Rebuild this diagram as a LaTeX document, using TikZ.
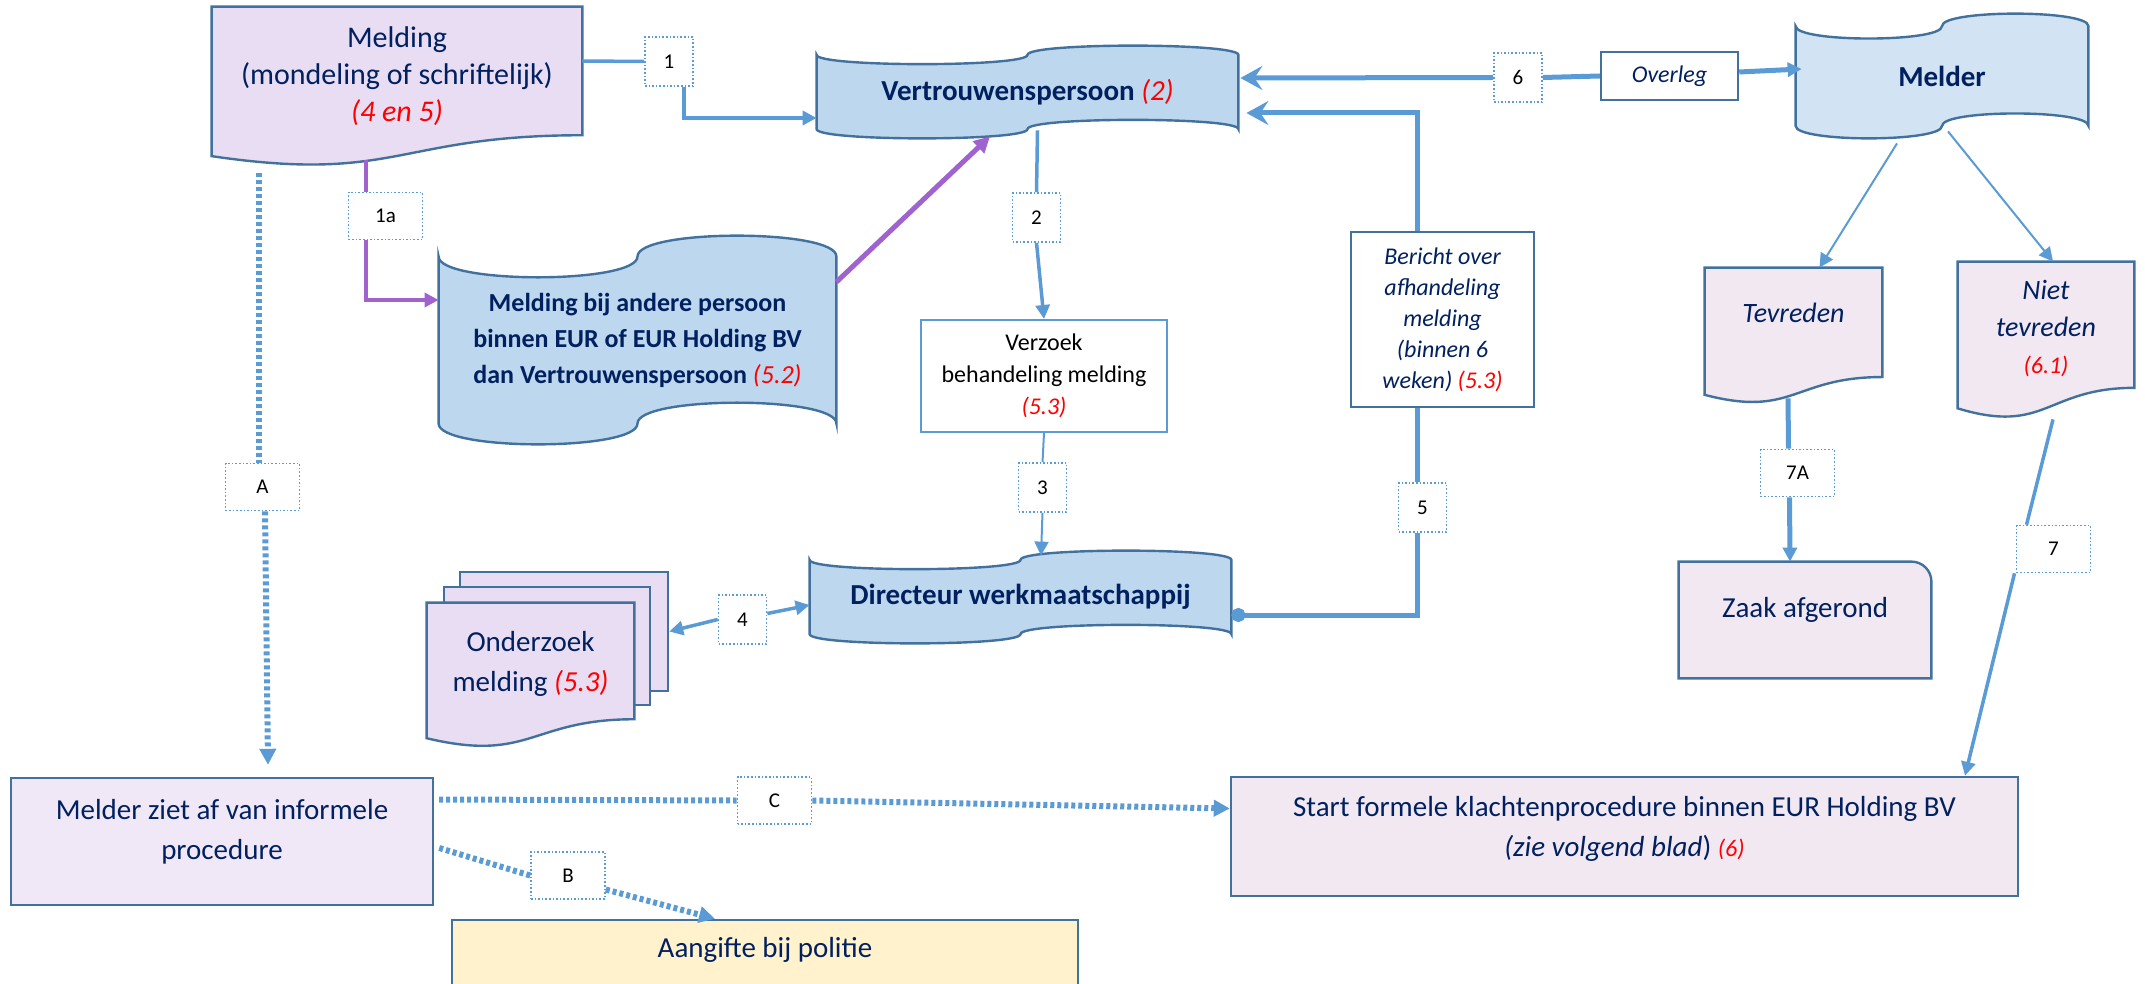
\documentclass[tikz,border=0pt]{standalone}
\usepackage{fontspec}
\setmainfont{Carlito}
\usetikzlibrary{arrows.meta,calc,backgrounds}

\definecolor{navy}{HTML}{002060}
\definecolor{edge}{HTML}{41719C}
\definecolor{flowblue}{HTML}{5B9BD5}
\definecolor{purp}{HTML}{9F62CF}
\definecolor{tapeblue}{HTML}{BDD7EE}
\definecolor{melderblue}{HTML}{D2E3F3}
\definecolor{lav}{HTML}{E8DDF3}
\definecolor{lavlight}{HTML}{F0E8F7}
\definecolor{pinklight}{HTML}{F2E8F2}
\definecolor{cream}{HTML}{FFF2CC}

\newcommand\refnr[1]{{\color{red}\itshape #1}}

% punched tape outline round an empty node
\newcommand\tapeshape[2]{%
  \filldraw[boxed, fill=#2]
    ($(#1.north west)!0.1!(#1.south west)$)
    .. controls ($(#1.north west)!0.233!(#1.south west)$) and ($(#1.north)!0.233!(#1.south)$) .. ($(#1.north)!0.1!(#1.south)$)
    .. controls ($(#1.north)!-0.033!(#1.south)$) and ($(#1.north east)!-0.033!(#1.south east)$) .. ($(#1.north east)!0.1!(#1.south east)$)
    -- ($(#1.north east)!0.9!(#1.south east)$)
    .. controls ($(#1.north east)!0.767!(#1.south east)$) and ($(#1.north)!0.767!(#1.south)$) .. ($(#1.north)!0.9!(#1.south)$)
    .. controls ($(#1.north)!1.033!(#1.south)$) and ($(#1.north west)!1.033!(#1.south west)$) .. ($(#1.north west)!0.9!(#1.south west)$)
    -- cycle;}
% document outline with wavy bottom
\newcommand\docshape[2]{%
  \filldraw[boxed, fill=#2] (#1.north west) -- (#1.north east) -- ($(#1.north east)!0.8!(#1.south east)$)
    .. controls ($(#1.north)!0.8!(#1.south)$) and ($(#1.north)!1.1!(#1.south)$) .. ($(#1.north west)!0.93!(#1.south west)$)
    -- cycle;}

\tikzset{
  sized/.style 2 args={minimum width=#1, minimum height=#2, inner sep=0pt},
  txt/.style={align=center, text=navy, inner sep=0pt},
  big/.style={font=\fontsize{14.5}{20}\selectfont},
  boxed/.style={draw=edge, line width=1.2pt},
  lbl/.style={draw=flowblue, densely dotted, line width=0.8pt, fill=white, inner sep=0pt,
    minimum width=24pt, minimum height=24.5pt, font=\fontsize{10.5}{12}\selectfont},
  lblwide/.style={lbl, minimum width=37pt, minimum height=23.5pt},
  flow/.style={draw=flowblue, line width=1.75pt},
  flowthin/.style={draw=flowblue, line width=1pt},
  flowthick/.style={draw=flowblue, line width=2.5pt},
  purpline/.style={draw=purp, line width=2.2pt},
  dotflow/.style={draw=flowblue, line width=3pt, dash pattern=on 2pt off 1.5pt},
  headed/.style={-{Triangle[length=7pt,width=7pt]}},
  bighead/.style={-{Stealth[length=11pt,width=12pt,inset=4pt]}}
}

\begin{document}
\begin{tikzpicture}[x=0.5pt,y=-0.5pt]
\useasboundingbox (0,0) rectangle (2145,984);

% shapes
\node[sized={185pt}{80pt}] (mel) at (397,87) {};
\node[txt, font=\fontsize{15}{18.5}\selectfont] (mel-t) at ([yshift=5.5pt]mel.center)
  {Melding\\(mondeling of schriftelijk)\\\refnr{(4 en 5)}};
\node[sized={210.5pt}{46pt}, txt, font=\fontsize{14.5}{17}\selectfont\bfseries] (vp) at (1027.5,92)
  {Vertrouwenspersoon {\mdseries\refnr{(2)}}};
\node[sized={198.5pt}{104pt}, txt, font=\fontsize{13}{18}\selectfont\bfseries] (andere) at (637.5,340)
  {Melding bij andere persoon\\binnen EUR of EUR Holding BV\\dan Vertrouwenspersoon {\mdseries\refnr{(5.2)}}};
\node[sized={210.5pt}{46pt}, txt, font=\fontsize{14.5}{17}\selectfont\bfseries] (dir) at (1020.5,597)
  {Directeur werkmaatschappij};
\node[sized={146pt}{62pt}, txt, font=\fontsize{14.5}{17}\selectfont\bfseries] (melder) at (1942,76) {Melder};
\node[sized={103.5pt}{72.5pt}] (ond) at (530.5,675.5) {};
\node[txt, big] (ond-t) at ([yshift=6pt]ond.center) {Onderzoek\\melding \refnr{(5.3)}};
\node[sized={123pt}{56pt}, draw=flowblue, line width=1pt, fill=white, align=center,
  font=\fontsize{12}{16}\selectfont] (vz) at (1044,376) {Verzoek\\behandeling melding\\\refnr{(5.3)}};
\node[sized={91.5pt}{87.5pt}, boxed, fill=white, txt, font=\fontsize{12}{15.5}\selectfont\itshape] (ber)
  at (1442.5,319.5) {Bericht over\\afhandeling\\melding\\(binnen 6\\weken) \refnr{(5.3)}};
\node[sized={68.5pt}{24pt}, boxed, fill=white, txt, font=\fontsize{12}{14}\selectfont\itshape] (ovl)
  at (1669.5,76) {Overleg};
\node[sized={88.5pt}{68pt}] (tev) at (1793.5,336) {};
\node[txt, font=\fontsize{14}{18}\selectfont\itshape] (tev-t) at ([yshift=11.5pt]tev.center) {Tevreden};
\node[sized={88pt}{78.5pt}] (ntev) at (2046,340.5) {};
\node[txt, font=\fontsize{14}{18.5}\selectfont\itshape] (ntev-t) at ([yshift=6pt]ntev.center)
  {Niet\\tevreden\\{\fontsize{12}{14}\selectfont\refnr{(6.1)}}};
\node[sized={126pt}{58pt}] (zaak) at (1805,620) {};
\node[txt, big] (zaak-t) at ([yshift=5pt]zaak.center) {Zaak afgerond};
\node[sized={393.5pt}{59.5pt}, boxed, fill=pinklight] (start) at (1624.5,836.5) {};
\node[txt, big] (start-t) at ([yshift=4pt]start.center)
  {Start formele klachtenprocedure binnen EUR Holding BV\\\textit{(zie volgend blad}) {\fontsize{12}{14}\selectfont\refnr{(6)}}};
\node[sized={211pt}{63.5pt}, boxed, fill=lavlight] (ziet) at (222,841.5) {};
\node[txt, big] (ziet-t) at ([yshift=5pt]ziet.center) {Melder ziet af van informele\\procedure};
\node[sized={313pt}{40pt}, boxed, fill=cream] (aang) at (765,960) {};
\node[txt, big] (aang-t) at ([yshift=5pt]aang.center) {Aangifte bij politie};

% step labels
\node[lbl] (l1) at (669,61.5) {1};
\node[lblwide] (l1a) at (385.5,216) {1a};
\node[lbl] (l2) at (1036.5,217.5) {2};
\node[lbl] (l3) at (1042.5,487.5) {3};
\node[lbl] (l4) at (742.5,619.5) {4};
\node[lbl] (l5) at (1422.5,507.5) {5};
\node[lbl] (l6) at (1518,77.5) {6};
\node[lblwide] (l7A) at (1797.5,473) {7A};
\node[lblwide] (l7) at (2053.5,549) {7};
\node[lblwide] (lA) at (262.5,487) {A};
\node[lblwide] (lB) at (568,875.5) {B};
\node[lblwide] (lC) at (774.5,800.5) {C};

% outlines behind the texts
\begin{scope}[on background layer]
  \docshape{mel}{lav}
  \tapeshape{vp}{tapeblue}
  \tapeshape{andere}{tapeblue}
  \tapeshape{dir}{tapeblue}
  \tapeshape{melder}{melderblue}
  \node[sized={104pt}{59.5pt}, boxed, fill=lav] (ond3) at (564,631.5) {};
  \node[sized={103pt}{59pt}, boxed, fill=lav] (ond2) at (547,646) {};
  \docshape{ond}{lav}
  \docshape{tev}{pinklight}
  \docshape{ntev}{pinklight}
  \filldraw[boxed, fill=pinklight] (zaak.south west) -- (zaak.north west) -- ([xshift=-10pt]zaak.north east)
    arc[start angle=90, end angle=0, radius=10pt] -- (zaak.south east) -- cycle;
\end{scope}

% connectors
\draw[flow] ([yshift=13pt]mel.east) -- (l1.west);
\draw[flow,headed] ([xshift=7.5pt]l1.south) |- ([yshift=-13pt]vp.west);
\draw[purpline] ([xshift=-9.75pt,yshift=3.5pt]l1a.north |- mel.south) -- ([xshift=-9.75pt]l1a.north);
\draw[purpline,headed] ([xshift=-9.75pt]l1a.south) |- ([yshift=20pt]andere.west);
\draw[purpline,line width=2.5pt,-{Triangle[length=8pt,width=8pt]}] ([yshift=29pt]andere.east) -- ([xshift=-18.75pt,yshift=1pt]vp.south);
\draw[flow] ([xshift=5pt,yshift=4pt]vp.south) -- (l2.north);
\draw[flow,headed] (l2.south) -- (vz.north);
\draw[flowthin] (vz.south) -- (l3.north);
\draw[flowthin,headed] (l3.south) -- ([xshift=10.25pt,yshift=-2.5pt]dir.north);
\draw[flow,headed] (l4.west) -- (ond3.east);
\draw[flow,headed] ([yshift=3pt]l4.east) -- ([yshift=-4pt]dir.west);
\draw[flowthick,{Circle[length=7pt]}-] ([yshift=-9pt]dir.east) -| ([xshift=-2.75pt]l5.south);
\draw[flowthick] ([xshift=-2.75pt]l5.north) -- ([xshift=-12.75pt]ber.south);
\draw[flowthick,bighead] ([xshift=-12.75pt]ber.north) |- ([xshift=4pt,yshift=-10.5pt]vp.east);
\draw[flowthick,bighead] (l6.west) -- ([xshift=1pt,yshift=7pt]vp.east);
\draw[flowthick] (l6.east) -- (ovl.west);
\draw[flowthick,headed] ([yshift=2pt]ovl.east) -- ([xshift=3pt,yshift=3.5pt]melder.west);
\draw[flowthin,headed] ([xshift=-22.5pt,yshift=-2.5pt]melder.south) -- ([xshift=13pt]tev.north);
\draw[flowthin,headed] ([xshift=3pt,yshift=3.5pt]melder.south) -- ([xshift=3.5pt]ntev.north);
\draw[flowthick] ([xshift=-2.75pt,yshift=3pt]tev.south) -- ([xshift=-4.5pt]l7A.north);
\draw[flowthick,headed] ([xshift=-4pt]l7A.south) -- ([xshift=-7.5pt]zaak.north);
\draw[flow] ([xshift=3.5pt]ntev.south) -- ([xshift=-13.5pt]l7.north);
\draw[flow,headed] ([xshift=-19.5pt]l7.south) -- ([xshift=170.25pt]start.north);
\draw[dotflow] ([xshift=-69pt,yshift=-3pt]mel.south) -- ([xshift=-1.75pt]lA.north);
\draw[dotflow,-{Triangle[length=8pt,width=8pt]}] ([xshift=1.25pt]lA.south) -- ([xshift=23pt,yshift=6pt]ziet.north);
\draw[dotflow] ([xshift=2.5pt,yshift=-3.25pt]ziet.east) -- (lB.west);
\draw[dotflow,-{Triangle[length=8pt,width=8pt]}] ([yshift=-7pt]lB.east) -- ([xshift=-25pt]aang.north);
\draw[dotflow] ([xshift=2.5pt,yshift=21pt]ziet.east) -- (lC.west);
\draw[dotflow,-{Triangle[length=8pt,width=8pt]}] (lC.east) -- ([yshift=14pt]start.west);
\end{tikzpicture}
\end{document}
